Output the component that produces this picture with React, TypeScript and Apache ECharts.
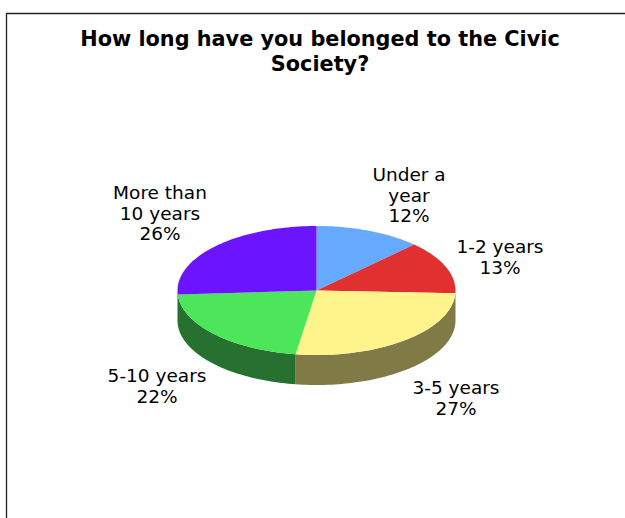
import React, { useEffect, useRef } from "react";
import * as echarts from "echarts";

const titleText = "How long have you belonged to the Civic\nSociety?";
const categories = ["Under a\nyear", "1-2 years", "3-5 years", "5-10 years", "More than\n10 years"];
const values = [12.4, 13.3, 26.7, 21.6, 26];
const topColors = ["#66AAFF", "#E03030", "#FFF48C", "#4DE55A", "#6A14FF"];
const wallColors = ["#33557F", "#701818", "#807A47", "#267030", "#350A7F"];
const labelCentres = [
  [409, 195],
  [500, 257],
  [456, 398],
  [157, 386],
  [160, 213],
];

const CX = 316.5;
const CY = 290.5;
const RX = 139;
const RY = 64.5;
const DEPTH = 30;
const FONT = "'DejaVu Sans', Verdana, sans-serif";

const total = values.reduce((a, b) => a + b, 0);

function rimPoint(deg: number, dy = 0): number[] {
  const r = (deg * Math.PI) / 180;
  return [CX + RX * Math.sin(r), CY - RY * Math.cos(r) + dy];
}

function arcPoints(from: number, to: number, dy = 0): number[][] {
  const pts: number[][] = [];
  const steps = Math.max(2, Math.ceil((to - from) / 1.5));
  for (let i = 0; i <= steps; i++) pts.push(rimPoint(from + ((to - from) * i) / steps, dy));
  return pts;
}

function renderSlice(params: any, api: any) {
  const i = params.dataIndex;
  const before = values.slice(0, i).reduce((a, b) => a + b, 0);
  const start = (before / total) * 360;
  const end = start + (api.value(0) / total) * 360;
  const children: any[] = [];

  const wallFrom = Math.max(start, 90);
  const wallTo = Math.min(end, 270);
  if (wallTo > wallFrom) {
    const upper = arcPoints(wallFrom, wallTo);
    const lower = arcPoints(wallFrom, wallTo, DEPTH).reverse();
    children.push({
      type: "polygon",
      shape: { points: upper.concat(lower) },
      style: { fill: wallColors[i] },
    });
  }
  children.push({
    type: "polygon",
    shape: { points: [[CX, CY]].concat(arcPoints(start, end)) },
    style: { fill: topColors[i] },
  });
  children.push({
    type: "text",
    x: labelCentres[i][0],
    y: labelCentres[i][1],
    style: {
      text: `${categories[i]}\n${Math.round(api.value(0))}%`,
      fill: "#000",
      font: `18.5px ${FONT}`,
      lineHeight: 20.5,
      align: "center",
      verticalAlign: "middle",
    },
  });
  return { type: "group", children };
}

export default function App() {
  const ref = useRef<HTMLDivElement>(null);
  useEffect(() => {
    document.body.style.margin = "0";
    const chart = echarts.init(ref.current!, null, { renderer: "svg" });
    chart.setOption({
      animation: false,
      backgroundColor: "#fff",
      title: {
        text: titleText,
        left: 315,
        top: 22,
        textAlign: "center",
        textStyle: {
          fontFamily: FONT,
          fontSize: 20.8,
          fontWeight: "bold",
          color: "#000",
          lineHeight: 24.5,
        },
      },
      graphic: [
        {
          type: "polyline",
          silent: true,
          shape: { points: [[6.5, 518], [6.5, 13.5], [625, 13.5]] },
          style: { stroke: "#222", lineWidth: 1.3, fill: "none" },
        },
      ],
      series: [
        {
          type: "custom",
          coordinateSystem: "none",
          silent: true,
          renderItem: renderSlice,
          data: values.map((v) => [v]),
        },
      ],
    });
    return () => chart.dispose();
  }, []);
  return <div ref={ref} style={{ width: 625, height: 518 }} />;
}
